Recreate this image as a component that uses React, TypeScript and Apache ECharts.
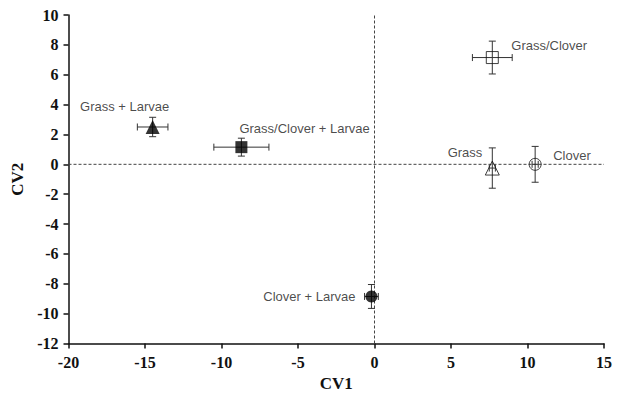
import React, { useEffect, useRef } from "react";
import * as echarts from "echarts";

const groups = ["Grass + Larvae", "Grass/Clover + Larvae", "Grass/Clover", "Grass", "Clover", "Clover + Larvae"];
const cv1 = [-14.5, -8.7, 7.7, 7.7, 10.5, -0.2];
const cv2 = [2.5, 1.15, 7.15, -0.25, 0, -8.85];
const cv1Err = [1.0, 1.8, 1.3, 0.2, 0.2, 0.45];
const cv2Err = [0.65, 0.6, 1.1, 1.35, 1.2, 0.8];
const xTicks = [-20, -15, -10, -5, 0, 5, 10, 15];
const yTicks = [-12, -10, -8, -6, -4, -2, 0, 2, 4, 6, 8, 10];

// marker style per group (not data)
const markers: Record<string, { symbol: string; size: number; filled: boolean; off: number[]; align: string }> = {
  "Grass + Larvae": { symbol: "triangle", size: 14, filled: true, off: [-28, -20], align: "center" },
  "Grass/Clover + Larvae": { symbol: "rect", size: 12, filled: true, off: [-2, -19], align: "left" },
  "Grass/Clover": { symbol: "rect", size: 12, filled: false, off: [19, -12], align: "left" },
  "Grass": { symbol: "triangle", size: 14, filled: false, off: [-10, -16], align: "right" },
  "Clover": { symbol: "circle", size: 12, filled: false, off: [18, -9], align: "left" },
  "Clover + Larvae": { symbol: "circle", size: 12, filled: true, off: [-16, 0], align: "right" },
};

export default function App() {
  const ref = useRef<HTMLDivElement>(null);
  useEffect(() => {
    if (!ref.current) return;
    const chart = echarts.init(ref.current, null, { renderer: "svg" });
    const serif = "'Liberation Serif', 'Times New Roman', serif";
    const sans = "'Liberation Sans', Arial, sans-serif";
    const errData = groups.map((g, i) => [cv1[i], cv2[i], cv1Err[i], cv2Err[i]]);
    const pts = groups.map((g, i) => {
      const m = markers[g];
      return {
        name: g,
        value: [cv1[i], cv2[i]],
        symbol: m.symbol,
        symbolSize: m.size,
        itemStyle: {
          color: m.filled ? "#000" : "rgba(255,255,255,0)",
          borderColor: "#111",
          borderWidth: m.filled ? 0 : 1,
        },
        label: {
          show: true,
          formatter: g,
          position: "inside",
          offset: m.off,
          align: m.align,
          verticalAlign: "middle",
          color: "#1a1a1a",
          fontFamily: sans,
          fontSize: 13,
        },
      };
    });
    const option: any = {
      animation: false,
      backgroundColor: "#fff",
      grid: { left: 68.5, right: 14, top: 15, bottom: 54.5, containLabel: false },
      xAxis: {
        type: "value",
        min: xTicks[0],
        max: xTicks[xTicks.length - 1],
        interval: 5,
        name: "CV1",
        nameLocation: "middle",
        nameGap: 31,
        nameTextStyle: { fontFamily: serif, fontWeight: "bold", fontSize: 17, color: "#111" },
        axisLine: { show: true, onZero: false, lineStyle: { color: "#111", width: 1.5 } },
        axisTick: { show: true, length: 5, lineStyle: { color: "#111", width: 1.5 } },
        axisLabel: { fontFamily: serif, fontWeight: "bold", fontSize: 16, color: "#111", margin: 11 },
        splitLine: { show: false },
      },
      yAxis: {
        type: "value",
        min: yTicks[0],
        max: yTicks[yTicks.length - 1],
        interval: 2,
        name: "CV2",
        nameLocation: "middle",
        nameGap: 39,
        nameTextStyle: { fontFamily: serif, fontWeight: "bold", fontSize: 17, color: "#111" },
        axisLine: { show: true, onZero: false, lineStyle: { color: "#111", width: 1.5 } },
        axisTick: { show: true, length: 5, lineStyle: { color: "#111", width: 1.5 } },
        axisLabel: { fontFamily: serif, fontWeight: "bold", fontSize: 16, color: "#111", margin: 10 },
        splitLine: { show: false },
      },
      series: [
        {
          type: "line",
          data: [[xTicks[0], 0], [xTicks[xTicks.length - 1], 0]],
          symbol: "none",
          lineStyle: { type: [3, 2], color: "#444", width: 1 },
          silent: true,
          z: 1,
        },
        {
          type: "line",
          data: [[0, yTicks[0]], [0, yTicks[yTicks.length - 1]]],
          symbol: "none",
          lineStyle: { type: [3, 2], color: "#444", width: 1 },
          silent: true,
          z: 1,
        },
        {
          type: "custom",
          data: errData,
          encode: { x: 0, y: 1 },
          z: 2,
          renderItem: (params: any, api: any) => {
            const x = api.value(0), y = api.value(1), ex = api.value(2), ey = api.value(3);
            const c = api.coord([x, y]);
            const l = api.coord([x - ex, y]);
            const r = api.coord([x + ex, y]);
            const t = api.coord([x, y + ey]);
            const b = api.coord([x, y - ey]);
            const cap = 3.5;
            const style = { stroke: "#333", lineWidth: 1 };
            return {
              type: "group",
              children: [
                { type: "line", shape: { x1: l[0], y1: c[1], x2: r[0], y2: c[1] }, style },
                { type: "line", shape: { x1: l[0], y1: c[1] - cap, x2: l[0], y2: c[1] + cap }, style },
                { type: "line", shape: { x1: r[0], y1: c[1] - cap, x2: r[0], y2: c[1] + cap }, style },
                { type: "line", shape: { x1: c[0], y1: t[1], x2: c[0], y2: b[1] }, style },
                { type: "line", shape: { x1: c[0] - cap, y1: t[1], x2: c[0] + cap, y2: t[1] }, style },
                { type: "line", shape: { x1: c[0] - cap, y1: b[1], x2: c[0] + cap, y2: b[1] }, style },
              ],
            };
          },
        },
        {
          type: "scatter",
          data: pts,
          z: 3,
        },
      ],
    };
    chart.setOption(option);
    return () => chart.dispose();
  }, []);
  return <div ref={ref} style={{ width: 618, height: 398, position: "absolute", left: 0, top: 0 }} />;
}
